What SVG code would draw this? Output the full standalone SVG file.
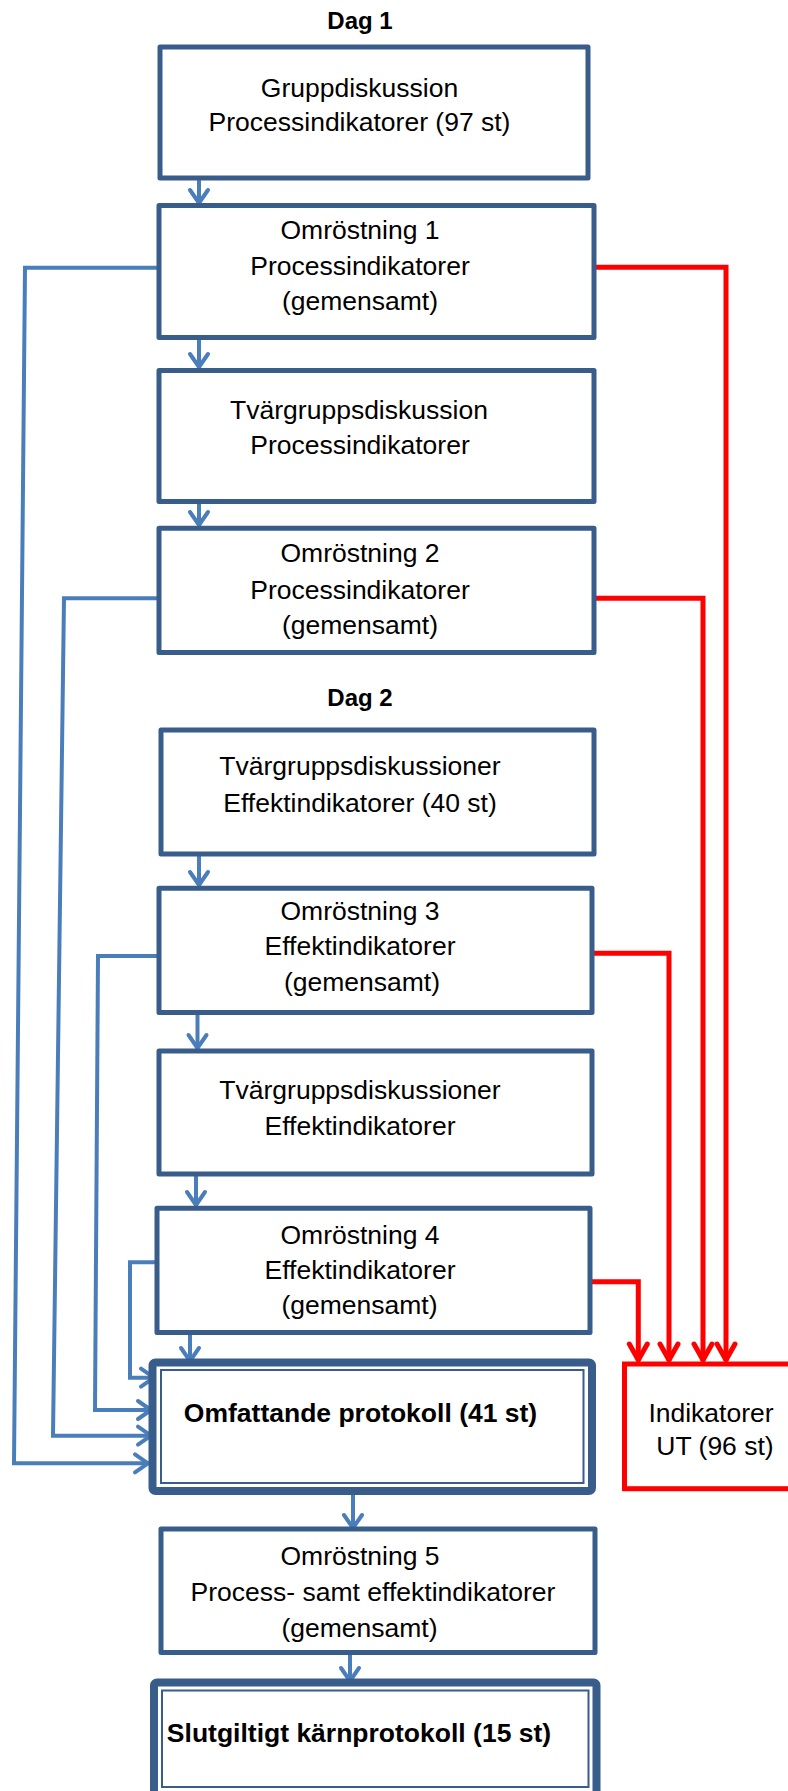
<svg xmlns="http://www.w3.org/2000/svg" width="788" height="1791" viewBox="0 0 788 1791">
<style>
.box{fill:#fff;stroke:#385D8A;stroke-width:5;stroke-linejoin:round}
.boxo{fill:#fff;stroke:#385D8A;stroke-width:8;stroke-linejoin:round}
.boxi{fill:none;stroke:#385D8A;stroke-width:2}
.out{fill:#fff;stroke:#FF0000;stroke-width:5}
.t{font-family:"Liberation Sans",Arial,sans-serif;font-size:26.5px;fill:#000;text-anchor:middle}
.b{font-weight:bold}
.h{font-family:"Liberation Sans",Arial,sans-serif;font-size:24px;font-weight:bold;fill:#000;text-anchor:middle}
.cb{fill:none;stroke:#4A7EBB;stroke-width:4;marker-end:url(#ab)}
.cr{fill:none;stroke:#FF0000;stroke-width:5;marker-end:url(#ar)}
</style>
<defs>
<marker id="ab" markerUnits="userSpaceOnUse" markerWidth="40" markerHeight="40" viewBox="-20 -20 40 40" refX="0" refY="0" orient="auto">
<path d="M-14,-9 L-1,0 L-14,9" fill="none" stroke="#4A7EBB" stroke-width="4" stroke-linecap="round" stroke-linejoin="round"/>
</marker>
<marker id="ar" markerUnits="userSpaceOnUse" markerWidth="40" markerHeight="40" viewBox="-20 -20 40 40" refX="0" refY="0" orient="auto">
<path d="M-17,-9 L-1,0 L-17,9" fill="none" stroke="#FF0000" stroke-width="5" stroke-linecap="round" stroke-linejoin="round"/>
</marker>
</defs>
<rect width="788" height="1791" fill="#fff"/>

<text id="dag1" class="h" x="360" y="29">Dag 1</text>
<text id="dag2" class="h" x="360" y="706">Dag 2</text>

<g id="connectors">
<path class="cb" d="M199,180 L199,204"/>
<path class="cb" d="M199,340 L199,368"/>
<path class="cb" d="M199,504 L199,526"/>
<path class="cb" d="M199,856 L199,886"/>
<path class="cb" d="M197.5,1015 L197.5,1049"/>
<path class="cb" d="M196,1176 L196,1206"/>
<path class="cb" d="M190,1335 L190,1362"/>
<path class="cb" d="M353,1495 L353,1529"/>
<path class="cb" d="M350,1655 L350,1682"/>
<path class="cb" d="M157,267.7 L25,267.7 L14,1463.3 L149,1463.3"/>
<path class="cb" d="M157,598.3 L64,598.3 L53,1435.7 L152,1435.7"/>
<path class="cb" d="M157,956 L98,956 L95,1410 L152,1410"/>
<path class="cb" d="M155,1262.3 L130,1262.3 L130,1377.7 L155,1377.7"/>
<path class="cr" d="M596,267.3 L726,267.3 L726,1361"/>
<path class="cr" d="M596,598.3 L703,598.3 L703,1361"/>
<path class="cr" d="M594,953.3 L669,953.3 L669,1361"/>
<path class="cr" d="M592,1281.7 L638.3,1281.7 L638.3,1361"/>
</g>

<g id="n1">
<rect class="box" x="160" y="47" width="428" height="131"/>
<text class="t" x="359.5" y="96.5">Gruppdiskussion</text>
<text class="t" x="359.5" y="131">Processindikatorer (97 st)</text>
</g>
<g id="n2">
<rect class="box" x="159" y="205.5" width="435" height="132"/>
<text class="t" x="360" y="238.5">Omröstning 1</text>
<text class="t" x="360" y="275">Processindikatorer</text>
<text class="t" x="360" y="310">(gemensamt)</text>
</g>
<g id="n3">
<rect class="box" x="159" y="370.5" width="435" height="131"/>
<text class="t" x="359" y="418.5">Tvärgruppsdiskussion</text>
<text class="t" x="360" y="453.5">Processindikatorer</text>
</g>
<g id="n4">
<rect class="box" x="159" y="528.3" width="435" height="124.2"/>
<text class="t" x="360" y="561.5">Omröstning 2</text>
<text class="t" x="360" y="598.5">Processindikatorer</text>
<text class="t" x="360" y="633.5">(gemensamt)</text>
</g>
<g id="n5">
<rect class="box" x="161" y="730" width="433" height="124"/>
<text class="t" x="360" y="775">Tvärgruppsdiskussioner</text>
<text class="t" x="360" y="812">Effektindikatorer (40 st)</text>
</g>
<g id="n6">
<rect class="box" x="159" y="888.3" width="433" height="124.2"/>
<text class="t" x="360" y="920">Omröstning 3</text>
<text class="t" x="360" y="955">Effektindikatorer</text>
<text class="t" x="362" y="991">(gemensamt)</text>
</g>
<g id="n7">
<rect class="box" x="159" y="1051" width="433" height="123"/>
<text class="t" x="360" y="1098.5">Tvärgruppsdiskussioner</text>
<text class="t" x="360" y="1135">Effektindikatorer</text>
</g>
<g id="n8">
<rect class="box" x="157" y="1208.3" width="433" height="124.2"/>
<text class="t" x="360" y="1243.5">Omröstning 4</text>
<text class="t" x="360" y="1278.5">Effektindikatorer</text>
<text class="t" x="359.5" y="1313.5">(gemensamt)</text>
</g>
<g id="n9">
<rect class="boxo" x="152.5" y="1362.5" width="439.5" height="128.5" rx="3"/>
<rect class="boxi" x="161" y="1370" width="422.5" height="113"/>
<text class="t b" x="360.5" y="1422">Omfattande protokoll (41 st)</text>
</g>
<g id="n10">
<rect class="out" x="624.5" y="1364" width="180" height="124.7"/>
<text class="t" x="711" y="1421.7">Indikatorer</text>
<text class="t" x="715" y="1455">UT (96 st)</text>
</g>
<g id="n11">
<rect class="box" x="161" y="1529" width="434" height="123.5"/>
<text class="t" x="360" y="1565">Omröstning 5</text>
<text class="t" x="373" y="1601">Process- samt effektindikatorer</text>
<text class="t" x="359.5" y="1636.5">(gemensamt)</text>
</g>
<g id="n12">
<rect class="boxo" x="154" y="1682.5" width="442.5" height="115" rx="3"/>
<rect class="boxi" x="162" y="1690.5" width="426.5" height="96.5"/>
<text class="t b" x="359" y="1742">Slutgiltigt kärnprotokoll (15 st)</text>
</g>
</svg>
